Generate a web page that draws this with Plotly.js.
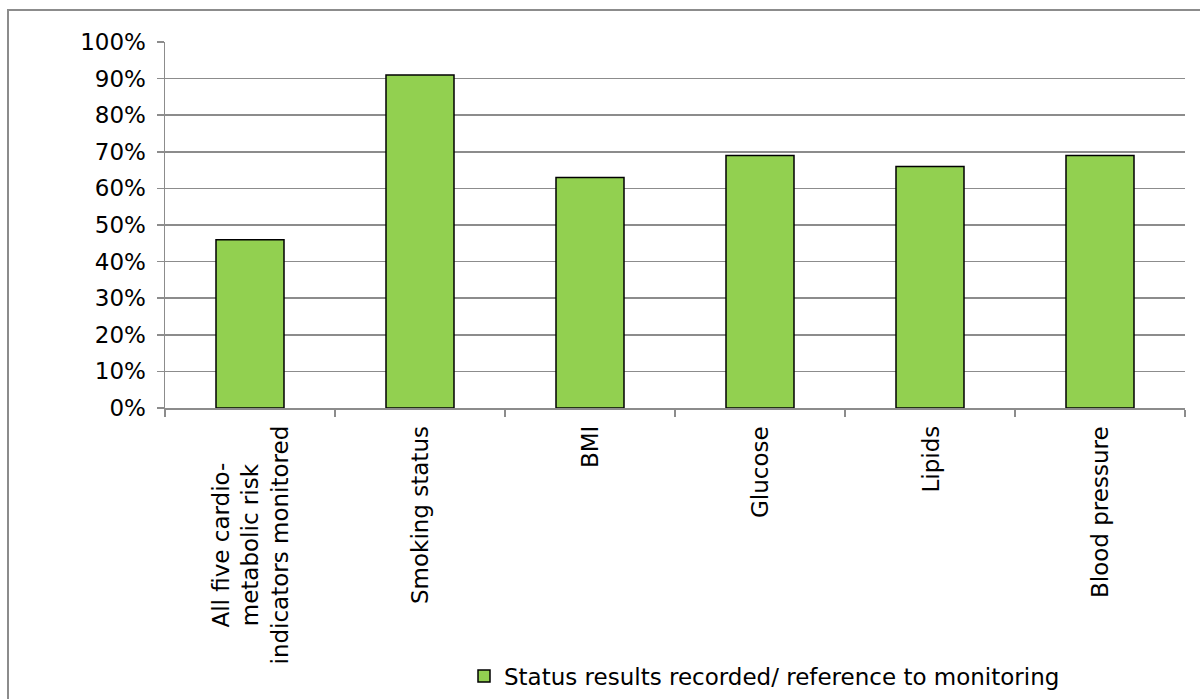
<!DOCTYPE html>
<html>
<head>
<meta charset="utf-8">
<script src="https://cdn.plot.ly/plotly-3.0.1.min.js"></script>
<style>html,body{margin:0;padding:0;background:#fff;}#chart{width:1200px;height:699px;}</style>
</head>
<body>
<div id="chart"></div>
<script>
const categories = ["All five cardio-<br>metabolic risk<br>indicators monitored", "Smoking status", "BMI", "Glucose", "Lipids", "Blood pressure"];
const values = [0.46, 0.91, 0.63, 0.69, 0.66, 0.69];
const seriesName = "Status results recorded/ reference to monitoring";
const yTickVals = [0, 0.1, 0.2, 0.3, 0.4, 0.5, 0.6, 0.7, 0.8, 0.9, 1.0];

const FONT = "DejaVu Sans, Verdana, sans-serif";
const FS = 23;
const L = 165, R = 15, T = 42, B = 291;
const W = 1200 - L - R, H = 699 - T - B;

const trace = {
  type: 'bar', x: categories, y: values, name: seriesName, width: 0.4,
  marker: {color: '#92D050', line: {color: '#000000', width: 1.5}},
  showlegend: true, hoverinfo: 'none'
};

const annotations = categories.map(c => ({
  x: c, xref: 'x', y: -16 / H, yref: 'paper', text: c, showarrow: false,
  textangle: -90, xanchor: 'center', yanchor: 'top', align: 'center',
  font: {family: FONT, size: FS, color: '#000'}
}));

const layout = {
  width: 1200, height: 699,
  margin: {l: L, r: R, t: T, b: B, autoexpand: false},
  paper_bgcolor: '#fff', plot_bgcolor: '#fff',
  font: {family: FONT, size: FS, color: '#000'},
  xaxis: {
    type: 'category', showticklabels: false, ticks: 'outside', tickson: 'boundaries',
    ticklen: 7, tickcolor: '#8c8c8c', tickwidth: 1.5,
    showline: true, linecolor: '#8c8c8c', linewidth: 1.5, showgrid: false, fixedrange: true
  },
  yaxis: {
    range: [0, 1], tickvals: yTickVals, tickformat: '.0%', ticks: 'outside', ticklen: 7,
    tickcolor: '#8c8c8c', tickwidth: 1.5, showline: true, linecolor: '#8c8c8c', linewidth: 1.5,
    showgrid: true, gridcolor: '#8c8c8c', gridwidth: 1.5, zeroline: false,
    ticklabelstandoff: 6, tickfont: {family: FONT, size: FS, color: '#000'}, fixedrange: true
  },
  showlegend: true,
  legend: {
    orientation: 'h', x: (464 - L) / W, xanchor: 'left', y: (408 - 676) / H, yanchor: 'middle',
    font: {family: FONT, size: FS, color: '#000'}, itemwidth: 30, bgcolor: 'rgba(0,0,0,0)'
  },
  annotations: annotations,
  shapes: [{
    type: 'rect', xref: 'paper', yref: 'paper',
    x0: (8 - L) / W, x1: (1210 - L) / W, y0: (408 - 710) / H, y1: 1 + (T - 10) / H,
    line: {color: '#8c8c8c', width: 2}, layer: 'below'
  }]
};

Plotly.newPlot('chart', [trace], layout, {displayModeBar: false, staticPlot: true});
</script>
</body>
</html>
